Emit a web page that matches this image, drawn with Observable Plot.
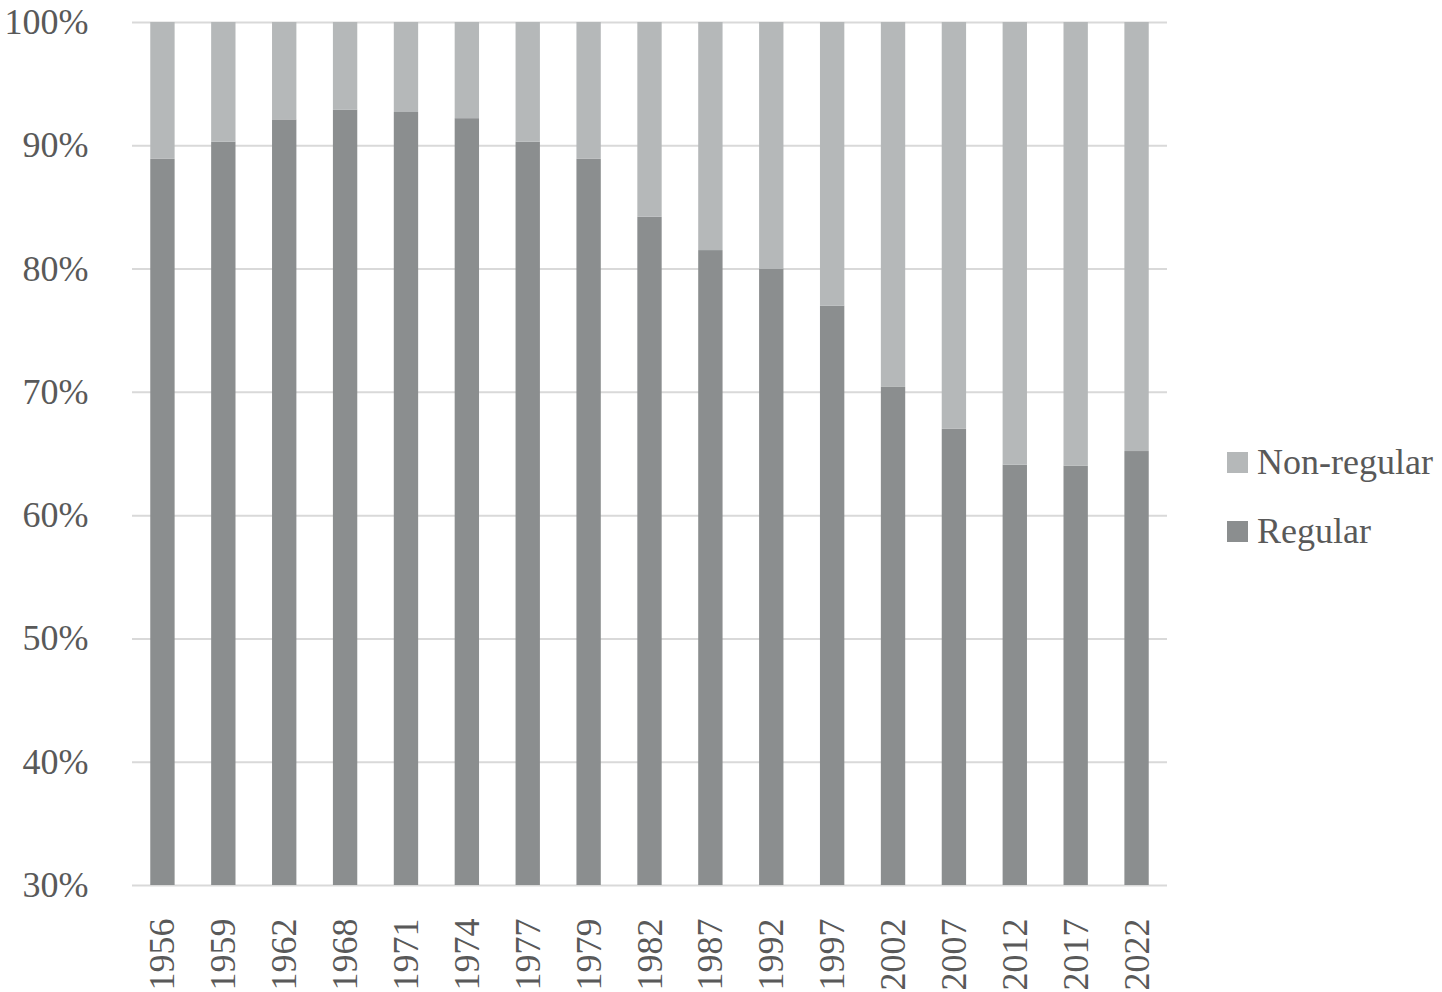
<!DOCTYPE html>
<html><head><meta charset="utf-8">
<script src="https://cdn.jsdelivr.net/npm/d3@7"></script>
<script src="https://cdn.jsdelivr.net/npm/@observablehq/plot@0.6"></script>
<style>
body{margin:0;background:#fff;}
#wrap{position:relative;width:1442px;height:992px;}
.legend{position:absolute;left:1227px;height:40px;line-height:40px;font-family:"Liberation Serif",serif;font-size:36px;color:#595959;display:flex;align-items:center;white-space:nowrap;}
.sw{width:21px;height:21px;margin-right:9px;}
</style></head><body>
<div id="wrap"></div>
<script>
const years = ["1956","1959","1962","1968","1971","1974","1977","1979","1982","1987","1992","1997","2002","2007","2012","2017","2022"];
const regular = [88.9, 90.3, 92.1, 92.9, 92.7, 92.2, 90.3, 88.9, 84.2, 81.5, 80.0, 77.0, 70.4, 67.0, 64.1, 64.0, 65.2];
const nonRegular = [11.1, 9.7, 7.9, 7.1, 7.3, 7.8, 9.7, 11.1, 15.8, 18.5, 20.0, 23.0, 29.6, 33.0, 35.9, 36.0, 34.8];
const seriesNames = ["Regular", "Non-regular"];
const seriesColors = ["#8b8e8f", "#b5b8b9"];
const yTicks = [30, 40, 50, 60, 70, 80, 90, 100];
const legendOrder = ["Non-regular", "Regular"];

const data = years.flatMap((y, i) => [
  {year: y, series: "Regular", value: regular[i]},
  {year: y, series: "Non-regular", value: nonRegular[i]}
]);

const chart = Plot.plot({
  width: 1442, height: 992,
  marginTop: 22, marginBottom: 107, marginLeft: 132, marginRight: 275,
  style: {fontFamily: "'Liberation Serif', serif", fontSize: "36px", color: "#595959", background: "#fff", overflow: "visible"},
  x: {domain: years, paddingInner: 0.6, paddingOuter: 0.3, round: false, label: null, tickSize: 0, tickPadding: 33, tickRotate: -90},
  y: {domain: [30, 100], ticks: yTicks, tickFormat: d => d + "%", label: null, tickSize: 0, tickPadding: 44},
  color: {domain: seriesNames, range: seriesColors},
  marks: [
    Plot.gridY(yTicks, {stroke: "#d9d9d9", strokeOpacity: 1, strokeWidth: 2}),
    Plot.barY(data, {x: "year", y: "value", fill: "series", order: seriesNames, clip: true})
  ]
});
const wrap = document.getElementById("wrap");
wrap.appendChild(chart);

const legendTops = [442, 511];
legendOrder.forEach((name, i) => {
  const row = document.createElement("div");
  row.className = "legend";
  row.style.top = legendTops[i] + "px";
  const sw = document.createElement("span");
  sw.className = "sw";
  sw.style.background = seriesColors[seriesNames.indexOf(name)];
  const t = document.createElement("span");
  t.textContent = name;
  row.appendChild(sw); row.appendChild(t);
  wrap.appendChild(row);
});
</script>
</body></html>
